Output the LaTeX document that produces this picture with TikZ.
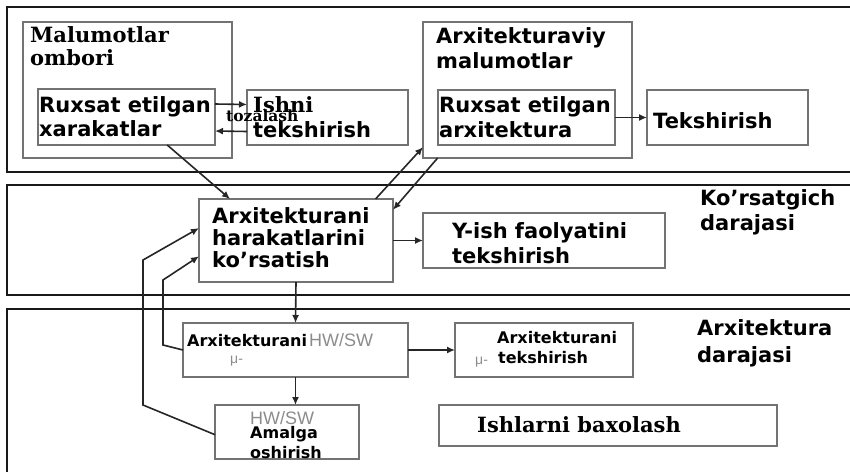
\documentclass[tikz,border=0pt]{standalone}
\usepackage{fontspec}
\setmainfont{DejaVu Sans}
\newfontfamily\serifb{DejaVu Serif}
\newfontfamily\plain{Liberation Sans}
\usetikzlibrary{arrows.meta,calc}

% box with corners (x1,y1) and (x2,y2), y measured downwards
\newcommand\mkbox[6][box]{%
  \node[#1, minimum width={(#5-#3)*1pt}, minimum height={(#6-#4)*1pt}] (#2) at (#3,#4) {};}

\tikzset{
  x=1pt, y=-1pt,
  band/.style={draw=black!90, line width=2.8pt, anchor=north west, inner sep=0pt, outer sep=0pt},
  box/.style={draw=black!55, line width=1.9pt, anchor=north west, inner sep=0pt, outer sep=0pt},
  % multi-line labels are placed by the baseline of their last line
  lbl/.style={anchor=base west, inner sep=0pt, align=left, text=black},
  big/.style={lbl, font=\fontsize{21}{#1}\selectfont\bfseries},
  big/.default=24,
  small/.style={lbl, font=\fontsize{16}{20}\selectfont\bfseries},
  faint/.style={lbl, text=black!45, font=\plain\fontsize{18}{20}\selectfont},
  arr/.style={draw=black!85, line width=1.6pt, -{Latex[length=8pt,width=7pt]}},
}

\begin{document}
\begin{tikzpicture}
\useasboundingbox (0,0) rectangle (850,471);
\clip (0,0) rectangle (850,471);

% three horizontal layers
\mkbox[band]{bandA}{7}{7}{870}{172}
\mkbox[band]{bandB}{7}{185}{870}{295}
\mkbox[band]{bandC}{7}{309}{870}{490}

% upper layer
\mkbox{mo}{23}{22}{232}{158}
\mkbox{rx}{38}{89}{215}{145}
\mkbox{ish}{247}{90}{408}{145}
\mkbox{am}{423}{22}{632}{158}
\mkbox{ra}{438}{90}{615}{145}
\mkbox{tek}{647}{90}{808}{145}

% middle layer
\mkbox{har}{199}{199}{393}{282}
\mkbox{yish}{423}{213}{665}{268}

% lower layer
\mkbox{hw}{183}{323}{408}{377}
\mkbox{mu}{455}{323}{633}{377}
\mkbox{amal}{215}{405}{359}{459}
\mkbox{baxo}{439}{405}{777}{446}

% labels
\node[big=23, font=\serifb\fontsize{21}{23}\selectfont\bfseries] (tmo) at (30,65) {Malumotlar\\ombori};
\node[big=24] (trx) at (39,136) {Ruxsat etilgan\\xarakatlar};
\node[big=25] (tish) at (253,137) {{\serifb Ishni}\\tekshirish};
\node[lbl, font=\serifb\fontsize{15.5}{17}\selectfont\bfseries] (tozal) at (226,121) {tozalash};
\node[big=25] (tam) at (436,68) {Arxitekturaviy\\malumotlar};
\node[big=25] (tra) at (439,137) {Ruxsat etilgan\\arxitektura};
\node[big] (ttek) at (653,128) {Tekshirish};

\node[big=22] (thar) at (212,267) {Arxitekturani\\harakatlarini\\ko’rsatish};
\node[big=25] (tyish) at (452,263) {Y-ish faolyatini\\tekshirish};
\node[big=25] (tko) at (700,230) {Ko’rsatgich\\darajasi};
\node[big=27] (tarx) at (697,362) {Arxitektura\\darajasi};

\node[small] (thw) at (187,346) {Arxitekturani\hspace{2pt}{\plain\mdseries\fontsize{18}{20}\selectfont\color{black!45}HW/SW}};
\node[faint, font=\plain\fontsize{14}{16}\selectfont] (thwmu) at (230,363) {μ-};
\node[small] (tmu) at (497,343) {Arxitekturani};
\node[faint, font=\plain\fontsize{14}{16}\selectfont] (tmumu) at (475,364) {μ-};
\node[small] (tmu2) at (498,363) {tekshirish};
\node[faint] (tamhw) at (250,424) {HW/SW};
\node[small] (tamal) at (250,458) {Amalga\\oshirish};
\node[big, font=\serifb\fontsize{21}{24}\selectfont\bfseries] (tbaxo) at (477,432) {Ishlarni baxolash};

% connectors
\draw[arr] ([yshift=13pt]rx.east) -- ([yshift=13pt]ish.west);
\draw[arr] ([yshift=-14pt]ish.west) -- ([yshift=-14pt]rx.east);
\draw[arr] (ra.east) -- (tek.west);
\draw[arr] ($(rx.south west)!0.73!(rx.south east)$) -- ($(har.north west)!0.16!(har.north east)$);
\draw[arr] ($(har.north west)!0.91!(har.north east)$) -- ($(am.north west)!0.92!(am.south west)$);
\draw[arr] ($(am.south west)!0.07!(am.south east)$) -- ($(har.north east)!0.13!(har.south east)$);
\draw[arr] (har.east) -- (yish.west);
\draw[arr] (har.south) -- (hw.north);
\draw[arr] (hw.south) -- (hw.south |- amal.north);
\draw[arr] (hw.east) -- (mu.west);
\draw[arr] (hw.west) -- (163,345) -- (163,280) -- ($(har.north west)!0.69!(har.south west)$);
\draw[arr] ($(amal.north west)!0.55!(amal.south west)$) -- (143,405) -- (143,260) -- ($(har.north west)!0.35!(har.south west)$);
\end{tikzpicture}
\end{document}
